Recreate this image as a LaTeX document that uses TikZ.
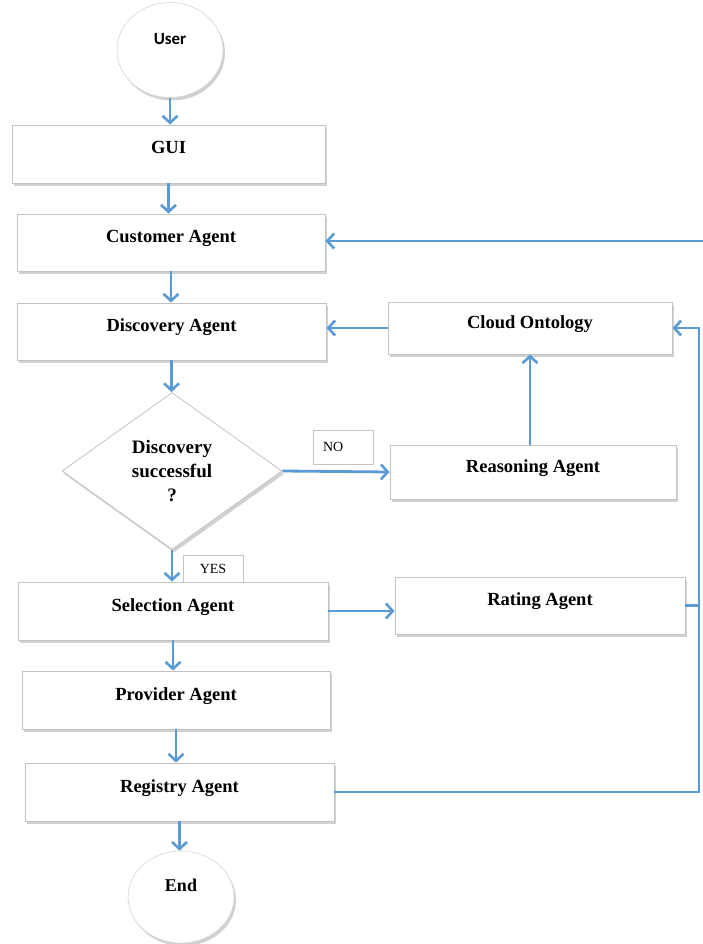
\documentclass[tikz,border=0pt]{standalone}
\usepackage{fontspec}
\setmainfont{Liberation Serif}
\newfontfamily\userfont{Carlito}
\usetikzlibrary{shapes.geometric,arrows.meta,shadows}
\definecolor{flowblue}{HTML}{5B9BD5}
\definecolor{boxline}{HTML}{C4C4C4}
\begin{document}
\begin{tikzpicture}
        [x=1pt,y=-1pt,
         shade/.style={drop shadow={shadow xshift=2pt,shadow yshift=-3pt,fill=black!40,opacity=0.45}},
         agentbox/.style={draw=boxline,line width=0.8pt,fill=white,shade,inner sep=0pt,
           text height=10pt,text depth=10pt,font=\fontsize{18.5}{22}\selectfont\bfseries},
         terminal/.style={ellipse,draw=boxline!70,line width=0.6pt,fill=white,shade,inner sep=0pt,
           text height=11pt,text depth=22pt},
         tagbox/.style={draw=boxline,line width=0.6pt,fill=white,inner sep=0pt,
           font=\fontsize{14}{16}\selectfont},
         arr/.style={draw=flowblue,line width=2.8pt,-{Straight Barb[length=7pt,width=15pt,line width=2.6pt]}},
         link/.style={draw=flowblue,line width=2.8pt}]
        \useasboundingbox (0,0) rectangle (703,944);

        \node[terminal,minimum width=106pt,minimum height=95pt,font=\userfont\fontsize{17}{20}\selectfont\bfseries] (user) at (170,50) {User};
        \node[agentbox,minimum width=313pt,minimum height=58pt] (gui) at (168.5,154) {GUI};
        \node[agentbox,minimum width=308pt,minimum height=57pt] (cust) at (171,242.5) {Customer Agent};
        \node[agentbox,minimum width=309pt,minimum height=57pt] (disc) at (171.5,331.5) {Discovery Agent};
        \node[agentbox,minimum width=284pt,minimum height=52pt] (onto) at (530,328) {Cloud Ontology};
        \node[diamond,aspect=1.4,draw=boxline,line width=0.8pt,fill=white,shade,inner sep=0pt,
          minimum width=220pt,minimum height=157pt,align=center,
          font=\fontsize{19}{24}\selectfont\bfseries] (dec) at (172,471) {Discovery\\successful\\?};
        \node[tagbox,minimum width=60pt,minimum height=34pt,text width=40pt,inner xsep=10pt,align=left] (no) at (343,447) {NO};
        \node[agentbox,minimum width=286pt,minimum height=54pt] (reas) at (533,472) {Reasoning Agent};
        \node[tagbox,minimum width=60pt,minimum height=28pt] (yes) at (213,569) {YES};
        \node[agentbox,minimum width=310pt,minimum height=58pt] (sel) at (173,611) {Selection Agent};
        \node[agentbox,minimum width=290pt,minimum height=57pt] (rate) at (540,605.5) {Rating Agent};
        \node[agentbox,minimum width=308pt,minimum height=58pt] (prov) at (176,700) {Provider Agent};
        \node[agentbox,minimum width=309pt,minimum height=58pt] (reg) at (179.5,792) {Registry Agent};
        \node[terminal,minimum width=106pt,minimum height=92pt,font=\fontsize{18}{22}\selectfont\bfseries] (end) at (181,897) {End};

        \coordinate (feed) at (703,241);
        \coordinate (bus) at (699,328);

        \draw[arr] (user.south) -- (user.south |- gui.north);
        \draw[arr] (gui.south) -- (gui.south |- cust.north);
        \draw[arr] (cust.south) -- (cust.south |- disc.north);
        \draw[arr] (disc.south) -- (disc.south |- dec.north);
        \draw[arr] (dec.south) -- (dec.south |- sel.north);
        \draw[arr] (sel.south) -- (sel.south |- prov.north);
        \draw[arr] (prov.south) -- (prov.south |- reg.north);
        \draw[arr] (reg.south) -- (reg.south |- end.north);

        \draw[arr] (feed) -- (feed -| cust.east);
        \draw[arr] (onto.west) -- (onto.west -| disc.east);
        \draw[arr] (dec.east) -- (reas.west);
        \draw[arr] (reas.north -| onto.south) -- (onto.south);
        \draw[arr] (sel.east) -- (sel.east -| rate.west);
        \draw[link] (rate.east) -- (rate.east -| bus);
        \draw[arr] (reg.east) -| (bus) -- (onto.east);
      \end{tikzpicture}
\end{document}
